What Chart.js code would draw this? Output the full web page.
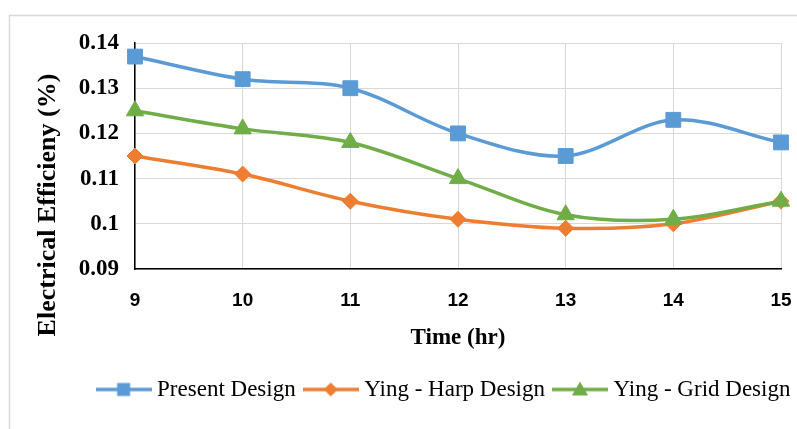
<!DOCTYPE html>
<html>
<head>
<meta charset="utf-8">
<script src="https://cdn.jsdelivr.net/npm/chart.js@4.4.1/dist/chart.umd.min.js"></script>
<style>
  html, body { margin: 0; padding: 0; background: #ffffff; overflow: hidden; }
  #wrap { width: 797px; height: 429px; position: relative; }
  canvas { display: block; }
</style>
</head>
<body>
<div id="wrap"><canvas id="efficiencyChart" width="797" height="429"></canvas></div>
<script>
// Hourly electrical efficiency of the three collector designs
const timeLabels = ['9', '10', '11', '12', '13', '14', '15'];
const presentDesign = [0.137, 0.132, 0.130, 0.120, 0.115, 0.123, 0.118];
const harpDesign    = [0.115, 0.111, 0.105, 0.101, 0.099, 0.100, 0.105];
const gridDesign    = [0.125, 0.121, 0.118, 0.110, 0.102, 0.101, 0.105];

const seriesNames  = ['Present Design', 'Ying - Harp Design', 'Ying - Grid Design'];
const seriesValues = [presentDesign, harpDesign, gridDesign];
const seriesColors = ['#5B9BD5', '#ED7D31', '#70AD47'];
const markerStyles = ['rect', 'rectRot', 'triangle'];
const markerRadii  = [10.5, 8, 10];
const drawOrder    = [0, 2, 1];

const xAxisTitle = 'Time (hr)';
const yAxisTitle = 'Electrical Efficieny (%)';

const SERIF = "'Liberation Serif', 'Times New Roman', serif";
const SANS  = "'Liberation Sans', Arial, sans-serif";

// Small "line + marker" swatch used as the legend symbol
function legendSwatch(color, style) {
  const c = document.createElement('canvas');
  c.width = 56; c.height = 22;
  const g = c.getContext('2d');
  const cx = 28, cy = 11;
  g.strokeStyle = color; g.lineWidth = 3.5; g.lineCap = 'butt';
  g.beginPath(); g.moveTo(0, cy); g.lineTo(56, cy); g.stroke();
  g.fillStyle = color;
  g.beginPath();
  if (style === 'rect') {
    g.rect(cx - 6.5, cy - 6.5, 13, 13);
  } else if (style === 'rectRot') {
    g.moveTo(cx, cy - 7); g.lineTo(cx + 7, cy); g.lineTo(cx, cy + 7); g.lineTo(cx - 7, cy);
    g.closePath();
  } else {
    g.moveTo(cx, cy - 8); g.lineTo(cx + 8, cy + 6); g.lineTo(cx - 8, cy + 6);
    g.closePath();
  }
  g.fill();
  return c;
}
const swatches = seriesColors.map((col, i) => legendSwatch(col, markerStyles[i]));

// White page with the thin grey frame around the figure
const framePlugin = {
  id: 'frame',
  beforeDraw(chart) {
    const ctx = chart.ctx;
    ctx.save();
    ctx.fillStyle = '#ffffff';
    ctx.fillRect(0, 0, chart.width, chart.height);
    ctx.strokeStyle = '#d9d9d9';
    ctx.lineWidth = 1.5;
    ctx.beginPath();
    ctx.moveTo(9.5, chart.height + 2);
    ctx.lineTo(9.5, 15.5);
    ctx.lineTo(chart.width + 2, 15.5);
    ctx.stroke();
    ctx.restore();
  }
};

// Vertical axis title, placed a little below the plot's middle
const yTitlePlugin = {
  id: 'yTitle',
  afterDraw(chart) {
    const ctx = chart.ctx;
    ctx.save();
    ctx.translate(48, 205);
    ctx.rotate(-Math.PI / 2);
    ctx.font = 'bold 26px ' + SERIF;
    ctx.fillStyle = '#000000';
    ctx.textAlign = 'center';
    ctx.textBaseline = 'middle';
    ctx.fillText(yAxisTitle, 0, 0);
    ctx.restore();
  }
};

// Centre the legend row under the plot instead of under the whole canvas
const legendCenterPlugin = {
  id: 'legendCenter',
  afterLayout(chart) {
    const lg = chart.legend;
    if (!lg) return;
    const shift = 446 - (lg.left + lg.right) / 2;
    lg.left += shift;
    lg.right += shift;
  }
};

const datasets = seriesNames.map((name, i) => ({
  label: name,
  data: seriesValues[i],
  borderColor: seriesColors[i],
  backgroundColor: seriesColors[i],
  borderWidth: 3.5,
  pointStyle: markerStyles[i],
  pointRadius: markerRadii[i],
  pointHoverRadius: markerRadii[i],
  pointBackgroundColor: seriesColors[i],
  pointBorderColor: seriesColors[i],
  pointBorderWidth: 1,
  tension: 0.33,
  fill: false,
  clip: false,
  order: drawOrder[i]
}));

new Chart(document.getElementById('efficiencyChart'), {
  type: 'line',
  data: { labels: timeLabels, datasets },
  plugins: [framePlugin, yTitlePlugin, legendCenterPlugin],
  options: {
    responsive: false,
    animation: false,
    devicePixelRatio: 1,
    layout: { padding: { top: 43, left: 10, right: 16, bottom: 18 } },
    plugins: {
      tooltip: { enabled: false },
      legend: {
        position: 'bottom',
        labels: {
          usePointStyle: true,
          pointStyleWidth: 44,
          padding: 13,
          color: '#000000',
          font: { family: SERIF, size: 23 },
          generateLabels(chart) {
            return chart.data.datasets.map((ds, i) => ({
              text: ds.label,
              pointStyle: swatches[i],
              fillStyle: ds.borderColor,
              strokeStyle: ds.borderColor,
              lineWidth: 0,
              hidden: false,
              datasetIndex: i
            }));
          }
        }
      }
    },
    scales: {
      x: {
        type: 'category',
        offset: false,
        grid: { color: '#d9d9d9', lineWidth: 1, drawTicks: false },
        border: { color: '#000000', width: 1.5 },
        ticks: {
          padding: 20,
          color: '#000000',
          font: { family: SANS, size: 19, weight: 'bold' }
        },
        title: {
          display: true,
          text: xAxisTitle,
          color: '#000000',
          font: { family: SERIF, size: 23, weight: 'bold' },
          padding: { top: 0, bottom: 13 }
        },
        afterFit(scale) {
          scale.height = 96;
          scale.paddingLeft = 0;
          scale.paddingRight = 0;
        }
      },
      y: {
        min: 0.09,
        max: 0.14,
        grid: { color: '#d9d9d9', lineWidth: 1, drawTicks: false },
        border: { color: '#000000', width: 1.5 },
        ticks: {
          stepSize: 0.01,
          padding: 16,
          color: '#000000',
          font: { family: SERIF, size: 23, weight: 'bold' },
          callback: v => String(+Number(v).toFixed(2))
        },
        afterFit(scale) {
          scale.width = 125;
          scale.paddingTop = 0;
          scale.paddingBottom = 0;
        }
      }
    }
  }
});
</script>
</body>
</html>
